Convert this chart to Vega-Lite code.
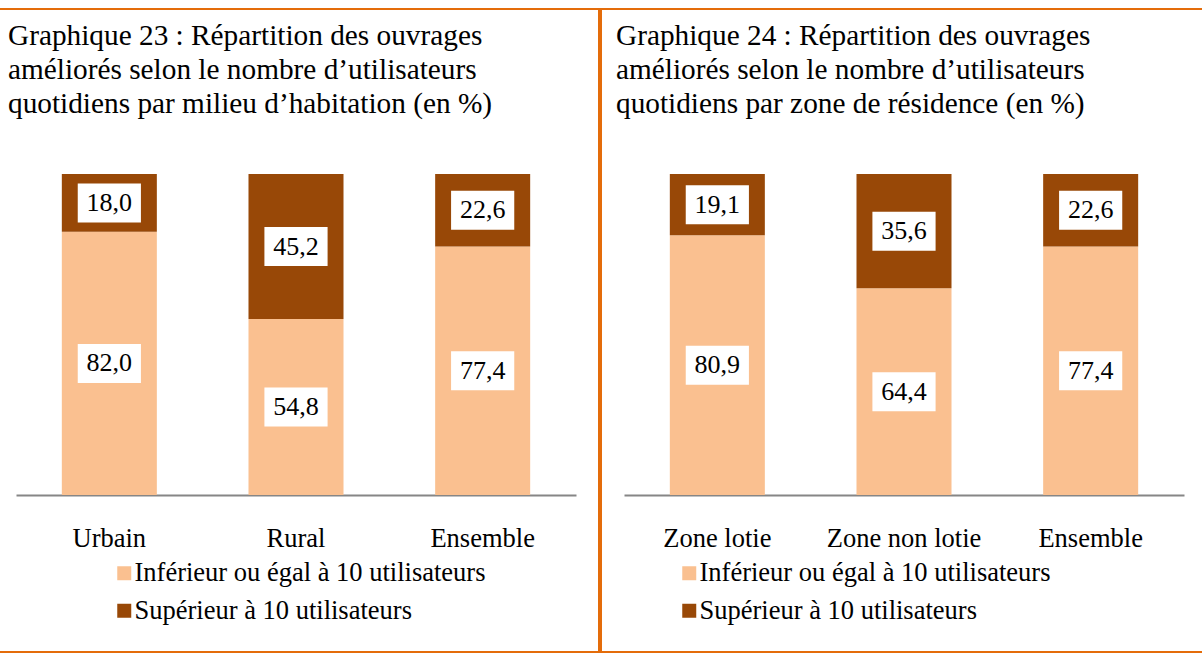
{
  "$schema": "https://vega.github.io/schema/vega-lite/v6.json",
  "padding": {"left": -2, "top": 8, "right": 0, "bottom": 0},
  "spacing": 0,
  "background": "white",
  "config": {
    "view": {"stroke": "#E46C0A", "strokeWidth": 2},
    "locale": {"number": {"decimal": ",", "thousands": " ", "grouping": [3], "currency": ["", " €"]}},
    "font": "Liberation Serif"
  },
  "resolve": {
    "scale": {"color": "independent", "x": "independent", "y": "independent"},
    "legend": {"color": "independent"}
  },
  "hconcat": [
    {
      "width": 600,
      "height": 643,
      "title": {
        "text": ["Graphique 23 : Répartition des ouvrages", "améliorés selon le nombre d’utilisateurs", "quotidiens par milieu d’habitation (en %)"],
        "anchor": "start", "frame": "group", "baseline": "top", "offset": -110, "dx": 9, "limit": 0,
        "font": "Liberation Serif", "fontSize": 29.3, "fontWeight": "normal", "color": "black", "lineHeight": 34
      },
      "data": {"values": [
        {"cat": "Urbain", "series": "Inférieur ou égal à 10 utilisateurs", "value": 82.0},
        {"cat": "Urbain", "series": "Supérieur à 10 utilisateurs", "value": 18.0},
        {"cat": "Rural", "series": "Inférieur ou égal à 10 utilisateurs", "value": 54.8},
        {"cat": "Rural", "series": "Supérieur à 10 utilisateurs", "value": 45.2},
        {"cat": "Ensemble", "series": "Inférieur ou égal à 10 utilisateurs", "value": 77.4},
        {"cat": "Ensemble", "series": "Supérieur à 10 utilisateurs", "value": 22.6}
      ]},
      "encoding": {
        "x": {"field": "cat", "type": "nominal", "sort": ["Urbain", "Rural", "Ensemble"],
          "scale": {"range": [17, 577], "paddingInner": 0.491, "paddingOuter": 0.2455},
          "axis": {"title": null, "orient": "bottom", "offset": -157, "ticks": false, "tickSize": 0, "labelPadding": 30, "labelAngle": 0,
            "labelFont": "Liberation Serif", "labelFontSize": 26.5, "labelColor": "black", "domainColor": "#868686", "domainWidth": 2, "grid": false}},
        "y": {"field": "value", "type": "quantitative", "stack": "zero",
          "scale": {"domain": [0, 100], "range": [486, 165]}, "axis": null},
        "order": {"field": "series", "sort": "ascending"}
      },
      "layer": [
        {
          "mark": {"type": "bar"},
          "encoding": {
            "color": {"field": "series", "type": "nominal",
              "scale": {"domain": ["Inférieur ou égal à 10 utilisateurs", "Supérieur à 10 utilisateurs"], "range": ["#FAC090", "#984807"]},
              "legend": {"title": null, "orient": "none", "legendX": 112, "legendY": 551, "symbolType": "square", "symbolSize": 196,
                "symbolStrokeWidth": 0, "labelFont": "Liberation Serif", "labelFontSize": 26.5, "labelColor": "black", "labelOffset": -3,
                "rowPadding": 10.5, "labelLimit": 0}}
          }
        },
        {
          "mark": {"type": "point", "shape": "M-1.62,-1H1.62V1H-1.62Z", "size": 1521, "filled": true, "color": "white", "opacity": 1, "strokeWidth": 0},
          "encoding": {
            "y": {"field": "value", "type": "quantitative", "stack": "zero", "bandPosition": 0.5},
            "detail": {"field": "series"}
          }
        },
        {
          "mark": {"type": "text", "font": "Liberation Serif", "fontSize": 26, "color": "black", "align": "center", "baseline": "middle"},
          "encoding": {
            "y": {"field": "value", "type": "quantitative", "stack": "zero", "bandPosition": 0.5},
            "detail": {"field": "series"},
            "text": {"field": "value", "type": "quantitative", "format": ".1f"}
          }
        }
      ]
    },
    {
      "width": 605,
      "height": 643,
      "title": {
        "text": ["Graphique 24 : Répartition des ouvrages", "améliorés selon le nombre d’utilisateurs", "quotidiens par zone de résidence (en %)"],
        "anchor": "start", "frame": "group", "baseline": "top", "offset": -110, "dx": 15, "limit": 0,
        "font": "Liberation Serif", "fontSize": 29.3, "fontWeight": "normal", "color": "black", "lineHeight": 34
      },
      "data": {"values": [
        {"cat": "Zone lotie", "series": "Inférieur ou égal à 10 utilisateurs", "value": 80.9},
        {"cat": "Zone lotie", "series": "Supérieur à 10 utilisateurs", "value": 19.1},
        {"cat": "Zone non lotie", "series": "Inférieur ou égal à 10 utilisateurs", "value": 64.4},
        {"cat": "Zone non lotie", "series": "Supérieur à 10 utilisateurs", "value": 35.6},
        {"cat": "Ensemble", "series": "Inférieur ou égal à 10 utilisateurs", "value": 77.4},
        {"cat": "Ensemble", "series": "Supérieur à 10 utilisateurs", "value": 22.6}
      ]},
      "encoding": {
        "x": {"field": "cat", "type": "nominal", "sort": ["Zone lotie", "Zone non lotie", "Ensemble"],
          "scale": {"range": [23, 583], "paddingInner": 0.491, "paddingOuter": 0.2455},
          "axis": {"title": null, "orient": "bottom", "offset": -157, "ticks": false, "tickSize": 0, "labelPadding": 30, "labelAngle": 0,
            "labelFont": "Liberation Serif", "labelFontSize": 26.5, "labelColor": "black", "domainColor": "#868686", "domainWidth": 2, "grid": false}},
        "y": {"field": "value", "type": "quantitative", "stack": "zero",
          "scale": {"domain": [0, 100], "range": [486, 165]}, "axis": null},
        "order": {"field": "series", "sort": "ascending"}
      },
      "layer": [
        {
          "mark": {"type": "bar"},
          "encoding": {
            "color": {"field": "series", "type": "nominal",
              "scale": {"domain": ["Inférieur ou égal à 10 utilisateurs", "Supérieur à 10 utilisateurs"], "range": ["#FAC090", "#984807"]},
              "legend": {"title": null, "orient": "none", "legendX": 75, "legendY": 551, "symbolType": "square", "symbolSize": 196,
                "symbolStrokeWidth": 0, "labelFont": "Liberation Serif", "labelFontSize": 26.5, "labelColor": "black", "labelOffset": -3,
                "rowPadding": 10.5, "labelLimit": 0}}
          }
        },
        {
          "mark": {"type": "point", "shape": "M-1.62,-1H1.62V1H-1.62Z", "size": 1521, "filled": true, "color": "white", "opacity": 1, "strokeWidth": 0},
          "encoding": {
            "y": {"field": "value", "type": "quantitative", "stack": "zero", "bandPosition": 0.5},
            "detail": {"field": "series"}
          }
        },
        {
          "mark": {"type": "text", "font": "Liberation Serif", "fontSize": 26, "color": "black", "align": "center", "baseline": "middle"},
          "encoding": {
            "y": {"field": "value", "type": "quantitative", "stack": "zero", "bandPosition": 0.5},
            "detail": {"field": "series"},
            "text": {"field": "value", "type": "quantitative", "format": ".1f"}
          }
        }
      ]
    }
  ]
}
